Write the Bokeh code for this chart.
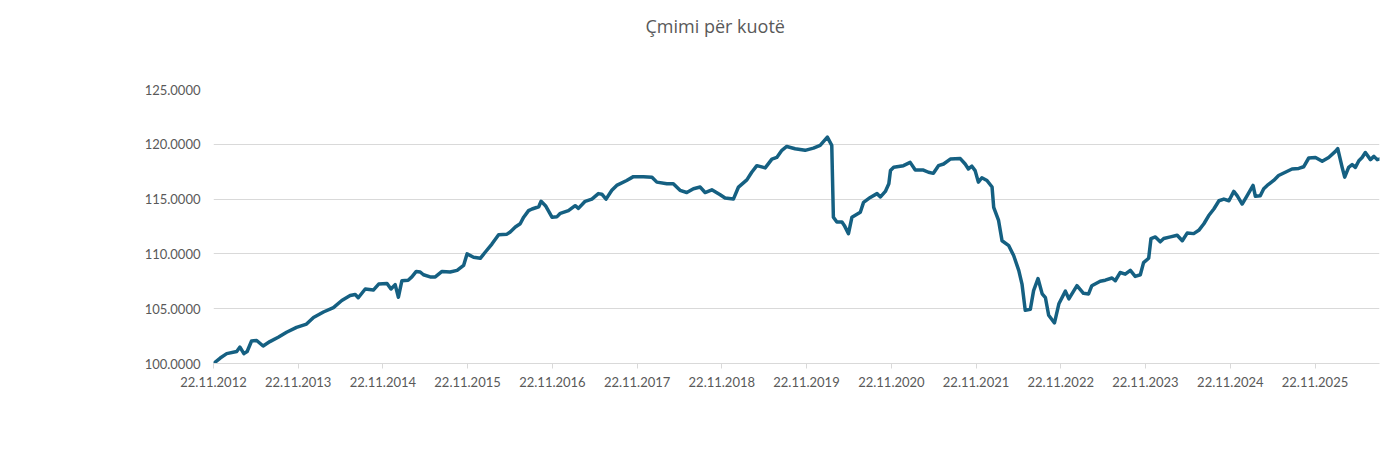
import pandas as pd
from bokeh.plotting import figure
from bokeh.models import (Range1d, FixedTicker, DatetimeTickFormatter,
                          NumeralTickFormatter, Title, ColumnDataSource)
from bokeh.embed import file_html
from bokeh.resources import INLINE

title_text = "Çmimi për kuotë"

dates = [
    "2012-11-22", "2012-12-21", "2013-01-18", "2013-03-02", "2013-03-16", "2013-04-02", "2013-04-16",
    "2013-05-05", "2013-05-27", "2013-06-24", "2013-07-23", "2013-08-28", "2013-10-03", "2013-11-15", "2013-12-28",
    "2014-01-27", "2014-03-11", "2014-04-23", "2014-05-29", "2014-07-04", "2014-07-26", "2014-08-08",
    "2014-09-07", "2014-10-12", "2014-11-04", "2014-12-10", "2014-12-27",
    "2015-01-14", "2015-01-28", "2015-02-12", "2015-03-11", "2015-03-27", "2015-04-15", "2015-05-02",
    "2015-05-16", "2015-06-14", "2015-07-06", "2015-08-04", "2015-09-08", "2015-10-08", "2015-11-05",
    "2015-11-20", "2015-12-18",
    "2016-01-16", "2016-02-06", "2016-03-06", "2016-04-04", "2016-05-10", "2016-05-24", "2016-06-15",
    "2016-07-06", "2016-07-21", "2016-08-11", "2016-08-26", "2016-09-24", "2016-10-04", "2016-10-23",
    "2016-11-20", "2016-12-12", "2016-12-26",
    "2017-01-30", "2017-02-28", "2017-03-14", "2017-04-12", "2017-05-11", "2017-06-08", "2017-06-23",
    "2017-07-11", "2017-08-05", "2017-08-26", "2017-10-08", "2017-11-06", "2017-12-19",
    "2018-01-25", "2018-02-15", "2018-03-30", "2018-04-27", "2018-05-26", "2018-06-24", "2018-07-23",
    "2018-08-21", "2018-09-11", "2018-10-10", "2018-11-15", "2018-12-06",
    "2019-01-11", "2019-02-02", "2019-03-10", "2019-03-31", "2019-04-22", "2019-05-28", "2019-06-26",
    "2019-07-17", "2019-08-08", "2019-08-29", "2019-10-04", "2019-11-16", "2019-12-22",
    "2020-01-20", "2020-02-20", "2020-03-10", "2020-03-17", "2020-04-01", "2020-04-23", "2020-05-03",
    "2020-05-21", "2020-06-05", "2020-07-11", "2020-07-25", "2020-08-23", "2020-09-21", "2020-10-06",
    "2020-10-27", "2020-11-11", "2020-11-18", "2020-12-02",
    "2021-01-13", "2021-02-11", "2021-03-05", "2021-04-09", "2021-05-01", "2021-05-22", "2021-06-13",
    "2021-07-05", "2021-08-03", "2021-09-15", "2021-10-06", "2021-10-20", "2021-11-04", "2021-11-18",
    "2021-12-02", "2021-12-17",
    "2022-01-08", "2022-01-30", "2022-02-06", "2022-02-27", "2022-03-14", "2022-04-12", "2022-05-03",
    "2022-05-25", "2022-06-08", "2022-06-22", "2022-07-14", "2022-07-28", "2022-08-16", "2022-09-03",
    "2022-09-17", "2022-10-01", "2022-10-26", "2022-11-14", "2022-12-12", "2022-12-27",
    "2023-01-31", "2023-02-28", "2023-03-22", "2023-04-05", "2023-05-11", "2023-06-02", "2023-07-01",
    "2023-07-15", "2023-08-05", "2023-08-27", "2023-09-18", "2023-10-09", "2023-10-31", "2023-11-14",
    "2023-12-06", "2023-12-16",
    "2024-01-04", "2024-01-25", "2024-02-09", "2024-03-09", "2024-04-07", "2024-04-29", "2024-05-20",
    "2024-06-17", "2024-07-09", "2024-07-31", "2024-08-21", "2024-09-12", "2024-10-04", "2024-10-25",
    "2024-11-16", "2024-12-07", "2024-12-22",
    "2025-01-12", "2025-02-02", "2025-02-28", "2025-03-10", "2025-03-31", "2025-04-15", "2025-04-30",
    "2025-05-28", "2025-06-18", "2025-07-17", "2025-08-15", "2025-09-13", "2025-10-04", "2025-10-26",
    "2025-11-24", "2025-12-23",
    "2026-01-20", "2026-02-18", "2026-02-28", "2026-03-19", "2026-03-30", "2026-04-16", "2026-05-01",
    "2026-05-15", "2026-05-30", "2026-06-13", "2026-06-27", "2026-07-19", "2026-08-03", "2026-08-17",
    "2026-08-27",
]

prices = [
    100.00, 100.50, 100.90, 101.10, 101.50, 100.90, 101.10, 102.05, 102.10, 101.60, 102.00, 102.40, 102.85, 103.30, 103.60,
    104.20, 104.70, 105.10, 105.75, 106.20, 106.30, 106.00, 106.80, 106.70, 107.25, 107.30, 106.80,
    107.20, 106.05, 107.55, 107.60, 107.90, 108.40, 108.35, 108.10, 107.90, 107.90, 108.40, 108.35, 108.50, 108.95, 110.00, 109.70,
    109.60, 110.15, 110.90, 111.75, 111.80, 112.00, 112.45, 112.75, 113.35, 113.95, 114.10, 114.30, 114.80, 114.40, 113.35, 113.40, 113.70,
    113.95, 114.40, 114.15, 114.80, 115.00, 115.50, 115.45, 115.00, 115.80, 116.25, 116.70, 117.05, 117.05,
    117.00, 116.55, 116.40, 116.40, 115.80, 115.60, 115.95, 116.10, 115.60, 115.85, 115.40, 115.10,
    115.00, 116.10, 116.75, 117.45, 118.05, 117.85, 118.65, 118.80, 119.45, 119.80, 119.60, 119.45, 119.65,
    119.90, 120.65, 119.90, 113.35, 112.90, 112.90, 112.60, 111.85, 113.35, 113.80, 114.70, 115.15, 115.50, 115.20, 115.70, 116.40, 117.60, 117.90,
    118.05, 118.35, 117.65, 117.65, 117.45, 117.35, 118.05, 118.20, 118.65, 118.70, 118.20, 117.75, 118.00, 117.60, 116.55, 116.95,
    116.70, 116.10, 114.25, 113.05, 111.20, 110.75, 109.85, 108.50, 107.25, 104.85, 104.95, 106.65, 107.75, 106.35, 106.00, 104.40, 103.70, 105.45, 106.60, 105.90,
    107.10, 106.40, 106.35, 107.10, 107.50, 107.60, 107.80, 107.55, 108.30, 108.15, 108.50, 107.95, 108.10, 109.20, 109.60, 111.40,
    111.55, 111.10, 111.40, 111.55, 111.70, 111.20, 111.90, 111.85, 112.15, 112.75, 113.50, 114.10, 114.85, 115.00, 114.85, 115.70, 115.30,
    114.55, 115.30, 116.25, 115.25, 115.30, 115.95, 116.25, 116.70, 117.15, 117.45, 117.75, 117.80, 117.95, 118.75, 118.80, 118.45,
    118.80, 119.35, 119.60, 117.90, 117.00, 117.90, 118.15, 117.90, 118.50, 118.80, 119.25, 118.60, 118.90, 118.60, 118.65,
]

tick_dates = ["2012-11-22", "2013-11-22", "2014-11-22", "2015-11-22", "2016-11-22", "2017-11-22", "2018-11-22",
              "2019-11-22", "2020-11-22", "2021-11-22", "2022-11-22", "2023-11-22", "2024-11-22", "2025-11-22"]
y_ticks = [100, 105, 110, 115, 120, 125]

TEXT = "#595959"
GRID = "#d9d9d9"
LINE = "#156082"

x = pd.to_datetime(dates)
src = ColumnDataSource(dict(x=x, y=prices))

p = figure(width=1384, height=437, frame_width=1166, frame_height=274,
           x_axis_type="datetime", output_backend="svg", toolbar_location=None,
           min_border_left=213, min_border_right=5, min_border_top=89, min_border_bottom=74,
           x_range=Range1d(x[0], x[-1]), y_range=Range1d(100, 125))

p.line("x", "y", source=src, line_color=LINE, line_width=3.5, line_join="round", line_cap="round")

tick_ms = [pd.Timestamp(d).value // 10**6 for d in tick_dates]
p.xaxis.ticker = FixedTicker(ticks=tick_ms)
fmt = "%d.%m.%Y"
p.xaxis.formatter = DatetimeTickFormatter(
    milliseconds=fmt, seconds=fmt, minsec=fmt, minutes=fmt, hourmin=fmt, hours=fmt,
    days=fmt, months=fmt, years=fmt, context=None)
p.yaxis.ticker = FixedTicker(ticks=y_ticks)
p.yaxis.formatter = NumeralTickFormatter(format="0.0000")

for ax in (p.xaxis[0], p.yaxis[0]):
    ax.major_label_text_font = "Lato"
    ax.major_label_text_font_size = "13px"
    ax.major_label_text_color = TEXT
    ax.minor_tick_line_color = None

p.yaxis.axis_line_color = None
p.yaxis.major_tick_line_color = None
p.yaxis.major_label_standoff = 7

p.xaxis.axis_line_color = GRID
p.xaxis.major_tick_line_color = GRID
p.xaxis.major_tick_in = 0
p.xaxis.major_tick_out = 5
p.xaxis.major_label_standoff = 8

p.xgrid.grid_line_color = None
p.ygrid.grid_line_color = GRID
p.ygrid.grid_line_width = 1
p.outline_line_color = None
p.background_fill_color = "white"
p.border_fill_color = "white"

# spacer panel between the frame and the title, then the title itself
p.add_layout(Title(text=" ", text_font_size="2px", standoff=48), "above")
p.add_layout(Title(text=title_text, align="left", offset=432, standoff=0,
                   text_font="Open Sans", text_font_size="18px", text_font_style="normal",
                   text_color=TEXT), "above")

open("out.html", "w").write(file_html(p, INLINE))
